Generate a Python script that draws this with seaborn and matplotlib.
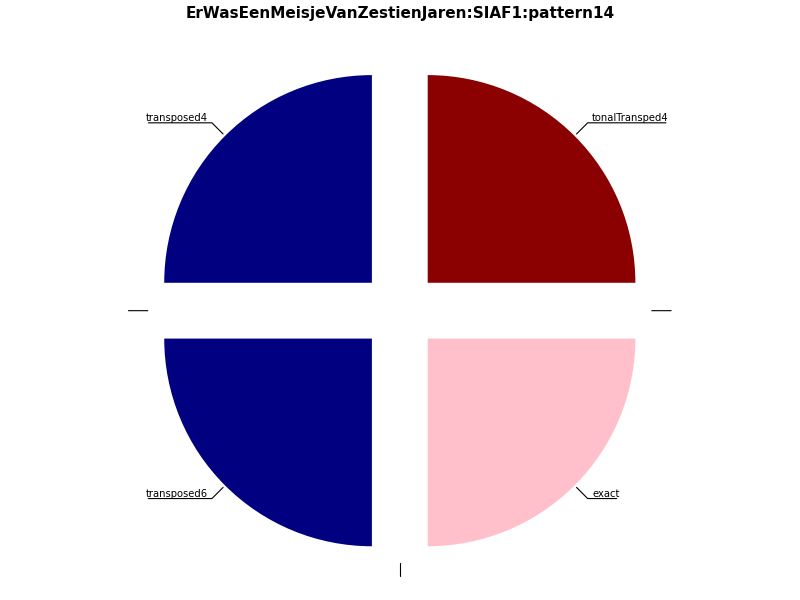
import numpy as np
import matplotlib
matplotlib.use("Agg")
import matplotlib.pyplot as plt
import seaborn as sns

title = "ErWasEenMeisjeVanZestienJaren:SIAF1:pattern14"
labels = ["", "tonalTransped4", "transposed4", "", "transposed6", "", "exact"]
counts = [0, 1, 1, 0, 1, 0, 1]
colors = ["white", "darkred", "navy", "white", "navy", "white", "pink"]
explode = [0.2, 0.19, 0.19, 0.2, 0.19, 0.2, 0.19]

sns.set_style("white")
fig = plt.figure(figsize=(8, 6), dpi=100)
ax = fig.add_axes([0.17525, 0.0495, 0.649, 0.8654])

wedges, _ = ax.pie(counts, colors=colors, explode=explode, startangle=0,
                   wedgeprops=dict(linewidth=0))
ax.set_xlim(-1.25, 1.25)
ax.set_ylim(-1.25, 1.25)
ax.set_aspect("equal")

# labels next to each wedge, line runs under the text
for w, lab in zip(wedges, labels):
    ang = (w.theta2 + w.theta1) / 2.0
    x = np.cos(np.deg2rad(ang))
    y = np.sin(np.deg2rad(ang))
    px = w.center[0] + x
    py = w.center[1] + y
    left = x < 0
    if abs(round(ang) % 180) == 0:
        conn = "arc3"
    else:
        conn = "angle,angleA=0,angleB={}".format(ang)
    ax.annotate(lab, xy=(px, py), xytext=(1.1 * px, 1.075 * py),
                ha="right" if left else "left", va="bottom", fontsize=7.2,
                color="black",
                arrowprops=dict(arrowstyle="-", color="black", lw=0.8,
                                connectionstyle=conn, patchA=None,
                                relpos=(0, 0) if left else (1, 0)))

fig.text(0.5, 0.978, title, ha="center", va="center", color="black",
         fontsize=11, fontweight="bold")

fig.savefig("out.png", dpi=100)
